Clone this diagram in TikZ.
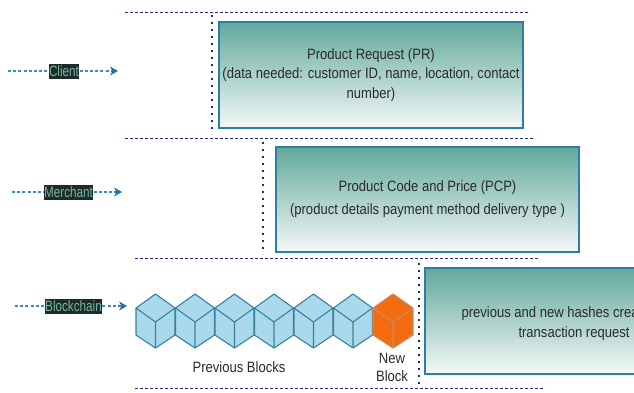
\documentclass[tikz,border=0pt]{standalone}
\usepackage{fontspec}
\setmainfont{Liberation Sans}
\newfontfamily\narrowfont[FakeStretch=0.87]{Liberation Sans}
\newfontfamily\tagfont[FakeStretch=0.78]{Liberation Sans}
\usetikzlibrary{arrows.meta}
\definecolor{FlowNavy}{HTML}{1B2A7A}
\definecolor{FlowBlue}{HTML}{3A8DBA}
\definecolor{FlowTip}{HTML}{1F6FA8}
\definecolor{FlowTeal}{HTML}{62A99B}
\definecolor{FlowPale}{HTML}{F4F8F8}
\definecolor{FlowFrame}{HTML}{2E7DA6}
\definecolor{FlowTag}{HTML}{1E2B28}
\definecolor{FlowTagText}{HTML}{74B8A8}
\definecolor{CubeFill}{HTML}{A9D9EC}
\definecolor{CubeEdge}{HTML}{3C8099}
\definecolor{NewFill}{HTML}{F36C10}
\definecolor{NewEdge}{HTML}{C98A66}
\definecolor{FlowInk}{HTML}{2A2A2A}

\tikzset{
  lane/.style={FlowNavy,line width=1pt,dash pattern=on 3pt off 2pt},
  gap/.style={FlowNavy,line width=2pt,dash pattern=on 1.8pt off 5.2pt},
  feed/.style={FlowBlue,line width=1.1pt,dash pattern=on 3pt off 2.2pt},
  tag/.style={fill=FlowTag,text=FlowTagText,inner xsep=0.5pt,inner ysep=0pt,minimum height=15pt,
    font=\tagfont\fontsize{15}{15}\selectfont},
  stagebox/.style={draw=FlowFrame,line width=1.1pt,top color=FlowTeal,bottom color=FlowPale,
    text=FlowInk,align=center,inner sep=0pt},
  blockface/.style={fill=CubeFill,draw=CubeEdge,line width=1.1pt,line join=round},
  newface/.style={fill=NewFill,draw=NewEdge,line width=1.1pt,line join=round}
}

\begin{document}
\begin{tikzpicture}[x=1pt,y=-1pt]
  \useasboundingbox (0,0) rectangle (634,392);
  \clip (0,0) rectangle (634,392);

  % swimlane borders
  \draw[lane] (125,12) -- (530,12);
  \draw[lane] (125,138) -- (535,138);
  \draw[lane] (135,258) -- (540,258);
  \draw[lane] (135,388) -- (545,388);
  \draw[gap] (212,15) -- (212,134);
  \draw[gap] (263,142) -- (263,254);
  \draw[gap] (419,263) -- (419,388);

  % stages
  \node[stagebox,minimum width=304pt,minimum height=106pt,
    font=\narrowfont\fontsize{15}{19.5}\selectfont] (request) at (371,75)
    {Product Request (PR)\\(data needed: customer ID, name, location, contact\\number)};
  \node[stagebox,minimum width=303pt,minimum height=105pt,
    font=\narrowfont\fontsize{15}{23}\selectfont] (price) at (427.5,199.5)
    {Product Code and Price (PCP)\\(product details payment method delivery type )};
  \node[stagebox,minimum width=310pt,minimum height=106pt] (hashes) at (580,321) {};
  \node[anchor=base west,text=FlowInk,font=\narrowfont\fontsize{15}{17}\selectfont] (hashtop) at (458,317)
    {previous and new hashes crea};
  \node[anchor=base,text=FlowInk,font=\narrowfont\fontsize{15}{17}\selectfont] (hashbot) at (574,337)
    {transaction request};

  % actors
  \foreach \key/\y/\xa/\xt/\xb/\name in {
    client/71/8/64/118/Client,
    merchant/192/12/68.5/122/Merchant,
    chain/306/15/73.5/127/Blockchain}
  {
    \coordinate (\key0) at (\xa,\y);
    \coordinate (\key1) at (\xb,\y);
    \node[tag] (\key) at (\xt,\y) {\name};
    \draw[feed] (\key0) -- (\key);
    \draw[feed,shorten >=5pt] (\key) -- (\key1);
    \fill[FlowTip] (\key1) -- ++(-8,-4.5) -- ++(2.5,4.5) -- ++(-2.5,4.5) -- cycle;
  }

  % chain of blocks
  \foreach \cx in {155.5,195,234.5,274,313.5,353} {
    \filldraw[blockface] (\cx,294) -- (\cx+19.5,308) -- (\cx+19.5,335) -- (\cx,348)
      -- (\cx-19.5,335) -- (\cx-19.5,308) -- cycle;
    \draw[blockface,fill=none] (\cx-19.5,308) -- (\cx,322) -- (\cx+19.5,308) (\cx,322) -- (\cx,348);
  }
  \filldraw[newface] (393,294) -- (413,308) -- (413,335) -- (393,348)
    -- (373,335) -- (373,308) -- cycle;
  \draw[newface,fill=none] (373,308) -- (393,322) -- (413,308) (393,322) -- (393,348);

  \node[text=FlowInk,font=\narrowfont\fontsize{15}{17}\selectfont] (previous) at (239,367) {Previous Blocks};
  \node[text=FlowInk,align=center,font=\narrowfont\fontsize{15}{18}\selectfont] (newblock) at (392,367) {New\\Block};
\end{tikzpicture}
\end{document}
